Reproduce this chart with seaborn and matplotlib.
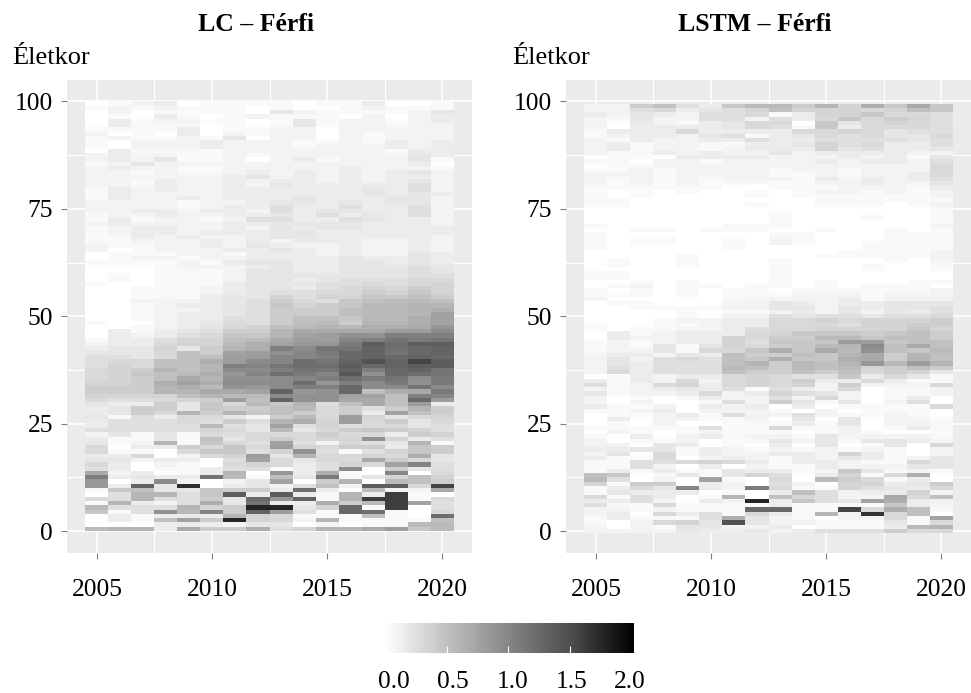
import numpy as np
import pandas as pd
import matplotlib
matplotlib.use("Agg")
import matplotlib.pyplot as plt
from matplotlib.colors import LinearSegmentedColormap, Normalize
import seaborn as sns

# one string per age (99 down to 0), one character per year (2005-2020)
# base-36 digit, 1 step = 0.05 on the colour scale
YEARS = list(range(2005, 2021))
AGES = list(range(99, -1, -1))
YEAR_TICKS = [2005, 2010, 2015, 2020]
AGE_TICKS = [0, 25, 50, 75, 100]
LEGEND_LABELS = ["0.0", "0.5", "1.0", "1.5", "2.0"]

LC_ROWS = [
    "0123011110113001", "1212111010012111", "0201111042111124", "0103101211102023",
    "0312211014122123", "0311101014122122", "1111301122022222", "2010302122021222",
    "1211214022021222", "1022232221121323", "1022232221222323", "0311112222222133",
    "2322112122222243", "2324112023122241", "1242222222222230", "2322112222232221",
    "2212112323232342", "2222223423232332", "2213223233232342", "2213223243333352",
    "1323223333334352", "1322223333334343", "1322323334333442", "2222122344343442",
    "2222123353353352", "2233233253443352", "1223223343534352", "1312212553354332",
    "2322223344443332", "1233223243443333", "1233233344333333", "1132322344333332",
    "1122232323332232", "2112232432232232", "2012223343232232", "0111221333232243",
    "0122122333343343", "1111213443344343", "0001222343344454", "0001112443344454",
    "0101112444444455", "0101112443455566", "1001113444556567", "0011123443567687",
    "0011123455668797", "00111344757799a8", "002223458659abba", "001233459789bbcc",
    "00122345888abbcd", "00123345888abbcf", "001233558aa9bbdf", "100234658ab8ccdf",
    "00123467abcbddeh", "03134588ceeeeggj", "03235699cfgiilll", "133577abeggklnmn",
    "233677bdfhhmrorr", "344748cdljnnqopq", "4446a8fgikmpqnpq", "5546aaggkklpqpqp",
    "566aadgjkonqtqvr", "576aaclknoorpqrr", "678cacjjlnnqlpqn", "679abdhkomksipon",
    "678aeciijklomnjm", "778dfdjjjohljmim", "888cdbihjllpjjnj", "888cceefqhipadem",
    "7777acbbjiiffalk", "655678gaqiieeapg", "4338496b9c5aeag3", "34884988ab6858c8",
    "3486c8c9a8683fa8", "415366428b6g7467", "35556585cd7g6846", "35555b54f5756645",
    "55555764b4689875", "2414165666866387", "31141a468677i735", "412c1965f52654c1",
    "60338696g7688398", "611069957i515798", "3360267g4c6676d4", "4423305f6466e864",
    "6302106763576fk5", "53011355135j0845", "e23013c0h3d10k06", "l3433nb1a4m147a7",
    "h03j2024f08c0ba8", "h3q4y03425a2rr6v", "19a449883o30b22e", "05cc59r3r31c3w10",
    "65c5584phq1cww16", "1c325d4n33d8bwf5", "b555c78zz47p1w05", "915ibk8qg51po106",
    "031333c76111a10o", "031af8z762c1111a", "00033324402011bb", "bcc3e88d57cceg9b",
]

LSTM_ROWS = [
    "228a539bb8c7d9e9", "22563457a77767a9", "3243255613779665", "2142255253696875",
    "2032134660946765", "2033334651936665", "1333633336676455", "1233245134656446",
    "2132233533555545", "2312211334756335", "2312212333745334", "2113232242333322",
    "0110333322232314", "1102212222323325", "0112222222222226", "1121222212212226",
    "2221222211212236", "2121212221323235", "2121211111223224", "1111110011122213",
    "1010100101221212", "1010000101111112", "1100000000111111", "1100000100111012",
    "0000000000000001", "0000000010000001", "0000000010001001", "0000000010000001",
    "1000001110000002", "0011011100100101", "1000000011000111", "1011001021000111",
    "1011001021001111", "1000001000001111", "0000000000011112", "0000100000111112",
    "0100100010000102", "0100100010001001", "0000000010001001", "1100000010000000",
    "1100000010000000", "0010100010100011", "0120110110101110", "1010101101111112",
    "1110101112221222", "2000001222231222", "0110002243233444", "0011112244243445",
    "0000101123242435", "0000102254554556", "0001223366767778", "1001123366657788",
    "1011223566777797", "03123336799989a8", "0322337688bb9aa8", "12123375999gg9aa",
    "1214147689bcjaea", "12241669d9ebia9b", "233243a88a9ce8ca", "242565a9d99de8ca",
    "243555ac8bachbgc", "253555ba8bab78a8", "263555a88a8a6874", "0132336765593641",
    "3132626768336311", "5126736767282226", "2123435153260112", "4122362375420112",
    "2010132252620130", "2020015284140250", "3112032303011116", "1123022210201110",
    "0112315225211210", "0302211204040221", "0102001113140221", "1111151161120131",
    "0210121110121001", "1030231221422221", "2011201142414432", "2204301030401406",
    "3344132121212102", "2406132233273102", "3116023213243124", "1155676313321164",
    "1152030211322244", "1313114331294121", "a9014147503716d0", "b5020f1060b86130",
    "7188032052077348", "1364k32m61175436", "143330103a523372", "615301c0a6522e6a",
    "3352032z3954fd32", "5116111131111932", "2212111pp11v6da1", "2306351631c2x6a0",
    "131115d42102261f", "102674t422111416", "20214422301113bc", "2222433423555866",
]


def decode(rows):
    vals = [[int(c, 36) * 0.05 for c in r] for r in rows]
    return pd.DataFrame(vals, index=AGES, columns=YEARS)


W, H = 971, 693
plt.rcParams['font.family'] = ['Liberation Serif', 'DejaVu Serif']
cmap = LinearSegmentedColormap.from_list(
    "bw", ["#ffffff", "#c0c0c0", "#858585", "#4c4c4c", "#000000"])


def px_axes(fig, x0, x1, y0, y1):
    return fig.add_axes([x0 / W, 1 - y1 / H, (x1 - x0) / W, (y1 - y0) / H])


def draw_panel(ax, df, age_shift):
    sns.heatmap(df, ax=ax, cmap=cmap, vmin=0, vmax=2, cbar=False,
                xticklabels=False, yticklabels=False, linewidths=0)
    ax.set_facecolor("#EBEBEB")
    ax.set_xlim(-0.8, 16.8)
    ax.set_ylim(105 - age_shift, -5 - age_shift)
    ax.set_xticks([y - 2005 + 0.5 for y in YEAR_TICKS])
    ax.set_xticks([y - 2005 + 3 for y in YEAR_TICKS[:-1]], minor=True)
    ax.set_xticklabels(YEAR_TICKS)
    ax.set_yticks([100 - a - age_shift for a in AGE_TICKS])
    ax.set_yticks([100 - a - 12.5 - age_shift for a in AGE_TICKS[:-1]], minor=True)
    ax.set_yticklabels(AGE_TICKS)
    ax.set_xlabel("")
    ax.set_ylabel("")
    ax.set_axisbelow(True)
    ax.grid(True, which="major", color="white", linewidth=1.2)
    ax.grid(True, which="minor", color="white", linewidth=0.8)
    ax.tick_params(which="major", length=4, width=0.8, color="#7f7f7f",
                   labelsize=18.4, labelcolor="black", pad=6)
    ax.tick_params(which="minor", length=0)
    ax.tick_params(axis="x", which="major", pad=15)
    ax.tick_params(axis="y", labelrotation=0)
    for s in ax.spines.values():
        s.set_visible(False)


fig = plt.figure(figsize=(W / 100, H / 100), dpi=100)
ax_lc = px_axes(fig, 67, 472, 80, 552.5)
ax_lstm = px_axes(fig, 566, 971, 80, 552.5)
draw_panel(ax_lc, decode(LC_ROWS), 0)
draw_panel(ax_lstm, decode(LSTM_ROWS), 0.5)

fig.text(256 / W, 1 - 31 / H, "LC – Férfi", ha="center", va="baseline",
         fontsize=18.5, fontweight="bold")
fig.text(755 / W, 1 - 31 / H, "LSTM – Férfi", ha="center", va="baseline",
         fontsize=18.5, fontweight="bold")
fig.text(12 / W, 1 - 64 / H, "Életkor", ha="left", va="baseline", fontsize=19)
fig.text(512 / W, 1 - 64 / H, "Életkor", ha="left", va="baseline", fontsize=19)

cax = px_axes(fig, 385, 634, 623, 653)
sm = plt.cm.ScalarMappable(norm=Normalize(0, 2.02), cmap=cmap)
cb = fig.colorbar(sm, cax=cax, orientation="horizontal")
cb.outline.set_visible(False)
cb.set_ticks([0.5, 1.0, 1.5])
cax.tick_params(direction="in", length=5, width=0.8, color="white",
                labelbottom=False)
for lab, xp in zip(LEGEND_LABELS, [394, 453, 513, 572, 630]):
    fig.text(xp / W, 1 - 688 / H, lab, ha="center", va="baseline", fontsize=18.4)

fig.savefig("out.png", dpi=100)
